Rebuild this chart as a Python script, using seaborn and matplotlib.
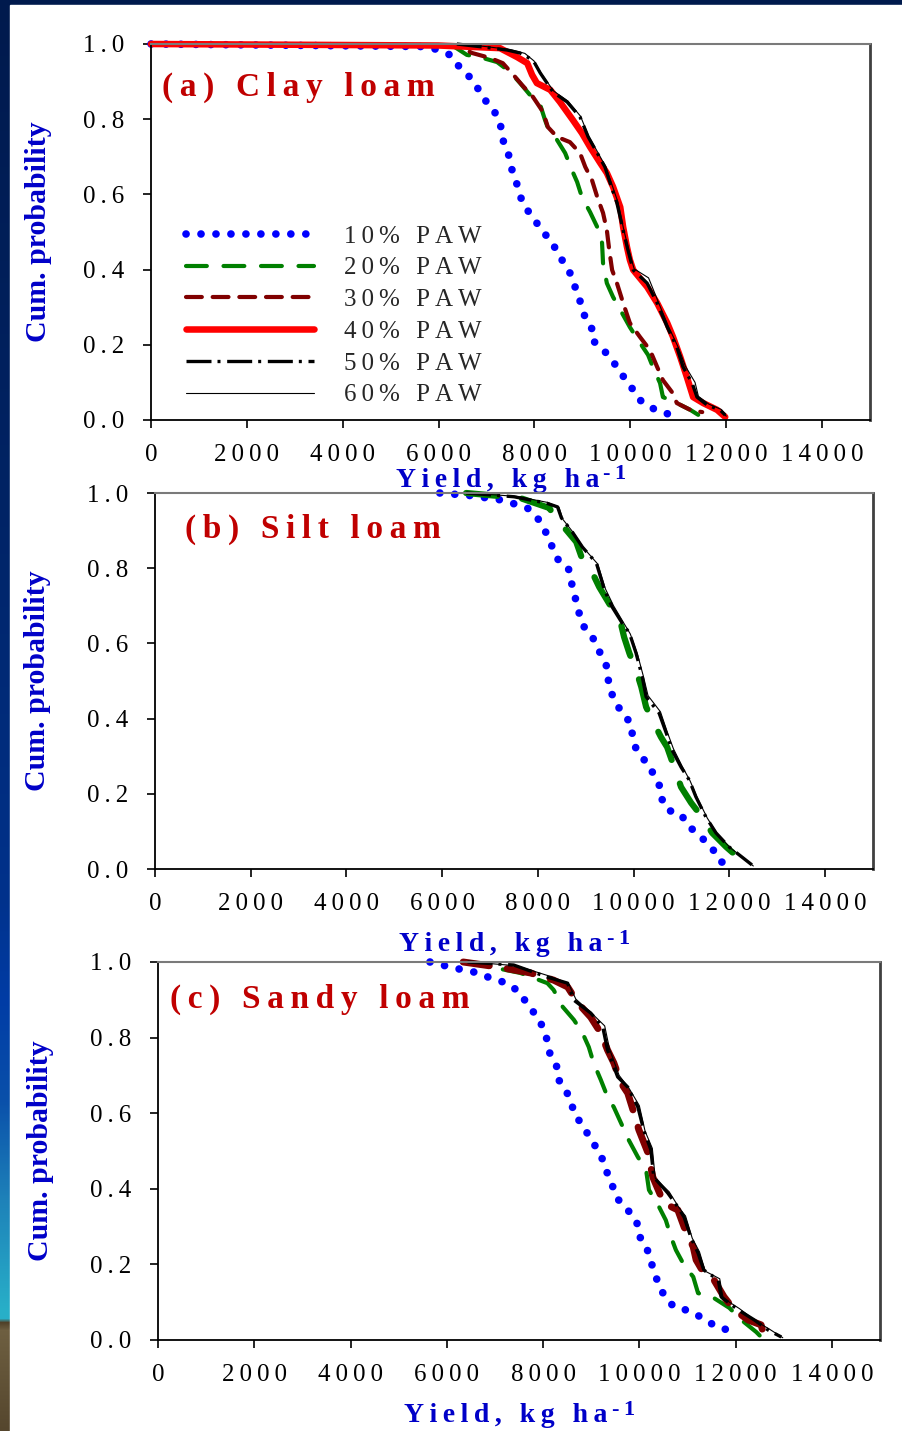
import numpy as np
import matplotlib
matplotlib.use("Agg")
import matplotlib.pyplot as plt
from matplotlib.patches import Rectangle
import seaborn as sns

# ---------------------------------------------------------------------------
# Data: exceedance probability of yield (kg/ha) for six PAW thresholds
# ---------------------------------------------------------------------------
series_labels = ["10% PAW", "20% PAW", "30% PAW", "40% PAW", "50% PAW", "60% PAW"]
x_ticks = [0, 2000, 4000, 6000, 8000, 10000, 12000, 14000]
y_ticks = [0.0, 0.2, 0.4, 0.6, 0.8, 1.0]
panel_titles = ["(a) Clay loam", "(b) Silt loam", "(c) Sandy loam"]

# (a) Clay loam
clay_10_yield = [0, 5800, 6240, 6400, 6610, 6800, 6930, 7120, 7240, 7320, 7340, 7450, 7490, 7550,
                 7640, 7700, 7800, 7990, 8120, 8330, 8470, 8600, 8740, 8910, 8990, 9060, 9200,
                 9200, 9410, 9580, 9740, 9890, 10060, 10200, 10450, 10680, 11000]
clay_10_prob = [1.0, 0.993, 0.971, 0.944, 0.918, 0.886, 0.856, 0.830, 0.803, 0.771, 0.745, 0.713,
                0.684, 0.657, 0.625, 0.596, 0.566, 0.537, 0.508, 0.479, 0.449, 0.420, 0.391, 0.332,
                0.301, 0.271, 0.242, 0.213, 0.191, 0.165, 0.138, 0.109, 0.080, 0.053, 0.032, 0.019,
                0.011]
clay_20_yield = [0, 6300, 6590, 6860, 7220, 7490, 7700, 7910, 8120, 8220, 8280, 8470, 8640, 8780,
                 8890, 8990, 9160, 9310, 9410, 9430, 9510, 9640, 9790, 9990, 10160, 10370, 10470,
                 10620, 10680, 10970, 11250, 11450]
clay_20_prob = [1.0, 0.995, 0.971, 0.965, 0.952, 0.926, 0.896, 0.864, 0.838, 0.798, 0.777, 0.745,
                0.710, 0.665, 0.633, 0.593, 0.553, 0.513, 0.471, 0.418, 0.364, 0.327, 0.293, 0.247,
                0.213, 0.173, 0.141, 0.098, 0.061, 0.045, 0.027, 0.011]
clay_30_yield = [0, 6400, 6700, 7070, 7340, 7600, 7740, 7970, 8180, 8280, 8470, 8740, 8950, 9060,
                 9200, 9310, 9430, 9510, 9560, 9620, 9720, 9850, 9990, 10200, 10410, 10560, 10680,
                 10870, 10970, 11250, 11500]
clay_30_prob = [1.0, 0.995, 0.976, 0.963, 0.949, 0.912, 0.891, 0.859, 0.819, 0.779, 0.753, 0.739,
                0.710, 0.673, 0.638, 0.593, 0.551, 0.505, 0.452, 0.399, 0.364, 0.311, 0.258, 0.221,
                0.186, 0.141, 0.106, 0.074, 0.045, 0.027, 0.021]
clay_40_yield = [0, 6000, 7280, 7640, 7850, 7950, 8050, 8330, 8530, 8800, 8990, 9160, 9370, 9510,
                 9640, 9790, 9850, 9930, 9990, 10060, 10350, 10560, 10770, 10890, 11040, 11180,
                 11310, 11520, 11810, 11980]
clay_40_prob = [1.0, 0.996, 0.989, 0.965, 0.949, 0.918, 0.896, 0.878, 0.846, 0.798, 0.763, 0.726,
                0.684, 0.657, 0.620, 0.566, 0.513, 0.460, 0.426, 0.399, 0.354, 0.311, 0.258, 0.221,
                0.168, 0.114, 0.061, 0.045, 0.027, 0.008]
clay_50_yield = [6380, 6930, 7430, 7700, 7970, 8120, 8390, 8680, 8950, 9120, 9310, 9470, 9580, 9720,
                 9850, 9950, 10060, 10350, 10560, 10770, 10970, 11100, 11290, 11390, 11600, 11870,
                 11980]
clay_50_prob = [1.0, 0.992, 0.984, 0.976, 0.957, 0.923, 0.872, 0.846, 0.806, 0.753, 0.710, 0.673,
                0.630, 0.577, 0.505, 0.452, 0.399, 0.364, 0.311, 0.247, 0.194, 0.141, 0.098, 0.061,
                0.040, 0.027, 0.013]
clay_60_yield = [6450, 7000, 7500, 7800, 7990, 8150, 8400, 8700, 8960, 9130, 9320, 9480, 9600, 9740,
                 9860, 9960, 10080, 10380, 10580, 10790, 10990, 11150, 11350, 11420, 11640, 11900,
                 12000]
clay_60_prob = [1.0, 0.993, 0.985, 0.975, 0.955, 0.920, 0.875, 0.848, 0.808, 0.755, 0.712, 0.675,
                0.632, 0.580, 0.508, 0.455, 0.402, 0.378, 0.315, 0.250, 0.196, 0.143, 0.100, 0.063,
                0.042, 0.028, 0.010]

# (b) Silt loam
silt_10_yield = [5950, 6600, 7260, 7780, 7990, 8140, 8240, 8340, 8450, 8640, 8680, 8760, 8800, 8860,
                 8930, 9120, 9240, 9340, 9450, 9470, 9510, 9640, 9740, 9950, 9970, 10010, 10140,
                 10340, 10430, 10570, 10590, 10700, 10990, 11120, 11370, 11570, 11720, 11820, 12120]
silt_10_prob = [1.0, 0.993, 0.981, 0.960, 0.934, 0.902, 0.875, 0.843, 0.816, 0.798, 0.769, 0.737,
                0.707, 0.681, 0.649, 0.622, 0.590, 0.564, 0.535, 0.503, 0.473, 0.444, 0.415, 0.388,
                0.359, 0.330, 0.301, 0.274, 0.245, 0.215, 0.186, 0.157, 0.146, 0.117, 0.090, 0.064,
                0.042, 0.019, 0.011]
silt_20_yield = [6500, 7620, 8240, 8410, 8590, 8800, 8910, 9140, 9280, 9530, 9700, 9800, 9910, 10070,
                 10160, 10260, 10390, 10570, 10700, 10890, 10990, 11200, 11430, 11640, 11930, 12200]
silt_20_prob = [1.0, 0.987, 0.960, 0.923, 0.902, 0.870, 0.830, 0.787, 0.750, 0.697, 0.670, 0.617,
                0.574, 0.521, 0.484, 0.431, 0.396, 0.351, 0.324, 0.255, 0.218, 0.176, 0.138, 0.096,
                0.059, 0.029]
silt_50_yield = [6500, 7500, 8180, 8410, 8490, 8720, 8930, 9220, 9390, 9550, 9760, 9910, 10050, 10180,
                 10260, 10530, 10680, 10800, 10990, 11160, 11300, 11510, 11720, 11990, 12260, 12470]
silt_50_prob = [1.0, 0.990, 0.973, 0.963, 0.934, 0.896, 0.856, 0.814, 0.742, 0.697, 0.654, 0.628,
                0.574, 0.511, 0.458, 0.415, 0.362, 0.317, 0.271, 0.237, 0.192, 0.138, 0.096, 0.059,
                0.032, 0.011]
silt_60_yield = [6550, 7550, 8200, 8440, 8520, 8750, 8960, 9250, 9410, 9580, 9780, 9930, 10080, 10200,
                 10300, 10560, 10700, 10830, 11010, 11180, 11330, 11540, 11750, 12020, 12300, 12500]
silt_60_prob = [1.0, 0.991, 0.975, 0.962, 0.930, 0.893, 0.853, 0.811, 0.745, 0.700, 0.657, 0.625,
                0.571, 0.514, 0.461, 0.418, 0.365, 0.320, 0.274, 0.234, 0.189, 0.135, 0.093, 0.056,
                0.029, 0.008]

# (c) Sandy loam
sandy_10_yield = [5650, 6000, 6340, 6660, 6950, 7260, 7530, 7680, 7890, 8010, 8090, 8140, 8280, 8300,
                  8470, 8590, 8640, 8840, 8970, 9140, 9260, 9340, 9450, 9530, 9760, 9950, 9970,
                  10140, 10220, 10300, 10390, 10510, 10720, 11050, 11340, 11640, 11970]
sandy_10_prob = [1.0, 0.989, 0.979, 0.971, 0.955, 0.944, 0.918, 0.886, 0.854, 0.823, 0.791, 0.759,
                 0.725, 0.693, 0.661, 0.630, 0.598, 0.566, 0.534, 0.503, 0.471, 0.439, 0.405, 0.376,
                 0.344, 0.312, 0.280, 0.249, 0.217, 0.183, 0.151, 0.119, 0.087, 0.077, 0.056, 0.032,
                 0.024]
sandy_20_yield = [6400, 6910, 7530, 8090, 8220, 8410, 8640, 8820, 8950, 9050, 9200, 9340, 9470, 9620,
                  9780, 9970, 10140, 10200, 10410, 10550, 10660, 10760, 10930, 11120, 11220, 11550,
                  11870, 12120, 12430, 12530]
sandy_20_prob = [1.0, 0.987, 0.971, 0.944, 0.926, 0.881, 0.847, 0.812, 0.775, 0.733, 0.688, 0.643,
                 0.616, 0.574, 0.529, 0.484, 0.450, 0.397, 0.352, 0.317, 0.272, 0.238, 0.198, 0.167,
                 0.124, 0.111, 0.085, 0.053, 0.021, 0.008]
sandy_30_yield = [6340, 7050, 7740, 8220, 8510, 8720, 8990, 9200, 9340, 9470, 9620, 9760, 9870, 9990,
                  10180, 10280, 10510, 10800, 10930, 11120, 11180, 11340, 11550, 11760, 11970, 12260,
                  12530, 12570]
sandy_30_prob = [1.0, 0.987, 0.971, 0.952, 0.934, 0.892, 0.854, 0.812, 0.767, 0.733, 0.680, 0.653,
                 0.608, 0.556, 0.495, 0.431, 0.362, 0.344, 0.299, 0.246, 0.212, 0.177, 0.159, 0.114,
                 0.080, 0.053, 0.040, 0.021]
sandy_50_yield = [6430, 7390, 8090, 8510, 8640, 8990, 9240, 9340, 9550, 9760, 9970, 10090, 10240,
                  10300, 10590, 10800, 10930, 11070, 11220, 11340, 11640, 11700, 12050, 12390, 12680,
                  12950]
sandy_50_prob = [1.0, 0.992, 0.960, 0.944, 0.899, 0.865, 0.828, 0.767, 0.696, 0.669, 0.616, 0.556,
                 0.503, 0.431, 0.389, 0.352, 0.325, 0.272, 0.230, 0.185, 0.159, 0.114, 0.080, 0.053,
                 0.026, 0.008]
sandy_60_yield = [6500, 7450, 8150, 8540, 8680, 9030, 9280, 9380, 9580, 9790, 10000, 10120, 10270,
                  10330, 10620, 10830, 10960, 11100, 11250, 11370, 11670, 11740, 12080, 12420, 12700,
                  12980]
sandy_60_prob = [1.0, 0.990, 0.962, 0.940, 0.902, 0.862, 0.831, 0.770, 0.700, 0.665, 0.620, 0.552,
                 0.507, 0.428, 0.392, 0.349, 0.328, 0.269, 0.233, 0.182, 0.162, 0.111, 0.083, 0.050,
                 0.029, 0.006]

# ---------------------------------------------------------------------------
# Styling
# ---------------------------------------------------------------------------
sns.set_style("ticks")
plt.rcParams["font.family"] = ["Liberation Serif", "DejaVu Serif"]

THIN = "\u2009"


def spaced(text):
    """Letter-spaced text: thin spaces between glyphs, widened gaps between words."""
    return (THIN + " " + THIN).join(THIN.join(word) for word in text.split(" "))


LABEL_BLUE = "#0000C8"
TITLE_RED = "#C00000"

# line style per PAW level: colour, width, linestyle, capstyle
STYLE = {
    "10": dict(color="#0000FF", lw=5.5, ls=(0, (0.01, 1.95)), cap="round"),
    "20": dict(color="#008000", lw=3.0, ls=(0, (5.0, 4.0)), cap="round"),
    "30": dict(color="#800000", lw=3.0, ls=(0, (3.8, 2.6)), cap="round"),
    "40": dict(color="#FF0000", lw=4.7, ls="-", cap="round"),
    "50": dict(color="#000000", lw=2.4, ls=(0, (7.5, 1.8, 0.9, 2.0)), cap="butt"),
    "60": dict(color="#000000", lw=0.8, ls="-", cap="round"),
}

# ---------------------------------------------------------------------------
# Figure and backdrop
# ---------------------------------------------------------------------------
W, H = 902, 1431
fig = plt.figure(figsize=(W / 100, H / 100), dpi=100)

bg = fig.add_axes([0, 0, 1, 1], zorder=-10)
stops_y = [0, 500, 900, 1000, 1100, 1200, 1310, 1318, 1322, 1330, 1431]
stops_rgb = np.array([
    (0, 26, 77), (0, 35, 100), (0, 50, 140), (0, 60, 165), (10, 80, 170),
    (30, 130, 185), (40, 175, 200), (40, 175, 200), (80, 65, 40), (110, 95, 65),
    (85, 70, 45)]) / 255.0
rows = np.arange(H)
grad = np.stack([np.interp(rows, stops_y, stops_rgb[:, k]) for k in range(3)], axis=-1)
bg.imshow(grad[:, None, :], aspect="auto", extent=[0, 1, 0, 1])
bg.add_patch(Rectangle((10 / W, 0), 1, 1 - 5 / H, color="white", transform=bg.transAxes))
bg.set_axis_off()


def rect(left, right, top, bottom):
    return [left / W, 1 - bottom / H, (right - left) / W, (bottom - top) / H]


ax_a = fig.add_axes(rect(151, 870, 44, 420))
ax_b = fig.add_axes(rect(155, 873, 493, 869))
ax_c = fig.add_axes(rect(158, 880, 962, 1340))


def draw(ax, yld, prob, key, label=None, lw=None):
    st = STYLE[key]
    sns.lineplot(
        x=yld, y=prob, ax=ax, sort=False, estimator=None,
        color=st["color"], linewidth=lw if lw else st["lw"], linestyle=st["ls"],
        dash_capstyle=st["cap"], solid_capstyle=st["cap"], solid_joinstyle="round",
        clip_on=False, label=label, legend=False,
    )


# (a)
draw(ax_a, clay_10_yield, clay_10_prob, "10", series_labels[0])
draw(ax_a, clay_20_yield, clay_20_prob, "20", series_labels[1])
draw(ax_a, clay_30_yield, clay_30_prob, "30", series_labels[2])
draw(ax_a, clay_40_yield, clay_40_prob, "40", series_labels[3])
draw(ax_a, clay_50_yield, clay_50_prob, "50", series_labels[4])
draw(ax_a, clay_60_yield, clay_60_prob, "60", series_labels[5])

# (b)
draw(ax_b, silt_10_yield, silt_10_prob, "10")
draw(ax_b, silt_20_yield, silt_20_prob, "20", lw=4.5)
draw(ax_b, silt_50_yield, silt_50_prob, "50")
draw(ax_b, silt_60_yield, silt_60_prob, "60")

# (c)
draw(ax_c, sandy_10_yield, sandy_10_prob, "10")
draw(ax_c, sandy_20_yield, sandy_20_prob, "20")
draw(ax_c, sandy_30_yield, sandy_30_prob, "30", lw=5.0)
draw(ax_c, sandy_50_yield, sandy_50_prob, "50")
draw(ax_c, sandy_60_yield, sandy_60_prob, "60")

# ---------------------------------------------------------------------------
# Axes decoration
# ---------------------------------------------------------------------------
title_pos = [(0.015, 0.862), (0.042, 0.880), (0.017, 0.878)]
xlabel_y = [-0.177, -0.219, -0.217]
ylabel_x = [-0.157, -0.163, -0.163]

for ax, title, tpos, xly, ylx in zip([ax_a, ax_b, ax_c], panel_titles, title_pos, xlabel_y, ylabel_x):
    ax.set_xlim(0, 15000)
    ax.set_ylim(0, 1.0)
    ax.set_xticks(x_ticks)
    ax.set_xticklabels([spaced(str(v)) for v in x_ticks])
    ax.set_yticks(y_ticks)
    ax.set_yticklabels([spaced(f"{v:.1f}") for v in y_ticks])
    ax.tick_params(axis="both", direction="out", length=6, width=1.2, color="black",
                   labelsize=18, labelcolor="black", top=False, right=False)
    ax.tick_params(axis="x", pad=11)
    ax.tick_params(axis="y", pad=13)
    for side in ("left", "bottom"):
        ax.spines[side].set_color("black")
        ax.spines[side].set_linewidth(1.3)
    ax.spines["top"].set_color("#7a7a7a")
    ax.spines["top"].set_linewidth(1.5)
    ax.spines["right"].set_color("#404040")
    ax.spines["right"].set_linewidth(2.0)
    ax.set_facecolor("white")

    # x label: letter-spaced main text, with the -1 exponent set as a raised text
    ax.set_xlabel(spaced("Yield, kg ha"), fontsize=20, color=LABEL_BLUE, fontweight="bold")
    ax.xaxis.set_label_coords(0.5 - 13 / 719, xly)
    ax.xaxis.label.set_verticalalignment("baseline")
    ax.annotate(spaced("-1"), xy=(1.0, 0.0), xycoords=ax.xaxis.label,
                xytext=(3, 9.5), textcoords="offset points", ha="left", va="baseline",
                fontsize=16, fontweight="bold", color=LABEL_BLUE, annotation_clip=False)

    ax.set_ylabel("Cum. probability", fontsize=21.5, color=LABEL_BLUE, fontweight="bold")
    ax.yaxis.set_label_coords(ylx, 0.5)
    ax.yaxis.label.set_verticalalignment("center")

    ax.text(tpos[0], tpos[1], spaced(title), transform=ax.transAxes, fontsize=24,
            fontweight="bold", color=TITLE_RED, ha="left", va="baseline")

# legend for (a)
handles, _ = ax_a.get_legend_handles_labels()
leg_labels = [spaced(s) for s in series_labels]
ax_a.legend(handles, leg_labels, loc="upper left", bbox_to_anchor=(0.049, 0.518),
            frameon=False, fontsize=18, handlelength=5.1, handletextpad=1.2,
            labelspacing=0.37, borderpad=0, borderaxespad=0)

fig.savefig("out.png", dpi=100)
